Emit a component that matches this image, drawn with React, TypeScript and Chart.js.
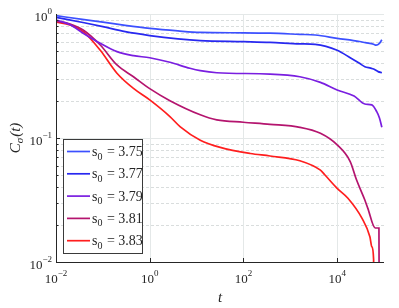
import React, { useEffect, useRef } from 'react';
import { Chart, registerables } from 'chart.js';
Chart.register(...registerables);

const seriesLabels = ['3.75', '3.77', '3.79', '3.81', '3.83'];
const seriesColors = ['#3c50ff', '#2828f0', '#7a1ee0', '#b4146e', '#ff1e1e'];

const tA = [0.01, 0.04, 0.1, 0.3, 1, 4, 12, 100, 370, 1600, 3400, 10000, 30000, 40000, 60000, 68000, 80000, 90000];
const cA = [0.97, 0.9, 0.86, 0.81, 0.765, 0.73, 0.71, 0.705, 0.7, 0.685, 0.677, 0.637, 0.6, 0.587, 0.57, 0.56, 0.58, 0.62];

const tB = [0.01, 0.04, 0.1, 0.3, 1, 4, 12, 100, 370, 1600, 3400, 10000, 19000, 30000, 39000, 52000, 60000, 75000, 90000];
const cB = [0.94, 0.85, 0.79, 0.72, 0.67, 0.63, 0.61, 0.598, 0.59, 0.575, 0.569, 0.51, 0.444, 0.4, 0.376, 0.366, 0.36, 0.343, 0.336];

const tC = [0.01, 0.02, 0.038, 0.088, 0.2, 0.45, 1, 2.7, 7.2, 12, 27, 370, 1600, 4400, 10000, 23000, 39000, 55000, 70000, 80000, 90000];
const cC = [0.895, 0.82, 0.7, 0.58, 0.497, 0.461, 0.444, 0.408, 0.365, 0.349, 0.336, 0.328, 0.312, 0.281, 0.244, 0.218, 0.188, 0.185, 0.163, 0.145, 0.122];

const tD = [0.01, 0.02, 0.038, 0.088, 0.2, 0.45, 1, 2.7, 12, 27, 100, 370, 1600, 4400, 10000, 19000, 26000, 39000, 45000, 65000, 78000, 80000];
const cD = [0.878, 0.83, 0.743, 0.562, 0.388, 0.312, 0.25, 0.2, 0.154, 0.14, 0.134, 0.129, 0.122, 0.109, 0.088, 0.0646, 0.0458, 0.0316, 0.0272, 0.0188, 0.0188, 0.001];

const tE = [0.01, 0.02, 0.038, 0.088, 0.2, 0.45, 1, 2.7, 4.5, 12, 32, 140, 370, 1600, 4400, 5500, 10000, 17000, 34000, 50000, 55000, 60000, 61000];
const cE = [0.86, 0.815, 0.72, 0.51, 0.333, 0.251, 0.203, 0.149, 0.123, 0.096, 0.084, 0.075, 0.0716, 0.0656, 0.055, 0.0503, 0.0393, 0.0327, 0.0225, 0.016, 0.0133, 0.0105, 0.001];

const seriesT = [tA, tB, tC, tD, tE];
const seriesC = [cA, cB, cC, cD, cE];

const xTickExps = [-2, 0, 2, 4];
const yTickExps = [-2, -1, 0];
const xGridExps = [0, 2, 4];
const yMajorGridExps = [-1, 0];
const yMinorDecades = [-2, -1];

const X_MIN = 1e-2;
const X_MAX = 1e5;
const Y_MIN = 1e-2;
const Y_MAX = 1;

const AXIS_COLOR = '#262626';
const SERIF = '"Liberation Serif", "Times New Roman", serif';

function toSup(s: string) {
  return s.replace('-', '\u2212');
}

const decorPlugin = {
  id: 'decor',
  beforeDatasetsDraw(chart: any) {
    const { ctx, chartArea: a, scales } = chart;
    const x = scales.x;
    const y = scales.y;
    ctx.save();
    ctx.lineWidth = 1;
    ctx.strokeStyle = '#d9dddd';
    ctx.setLineDash([3, 2]);
    for (const e of yMinorDecades) {
      for (let m = 2; m <= 9; m++) {
        const py = Math.round(y.getPixelForValue(m * Math.pow(10, e))) + 0.5;
        ctx.beginPath();
        ctx.moveTo(a.left, py);
        ctx.lineTo(a.right, py);
        ctx.stroke();
      }
    }
    ctx.setLineDash([]);
    ctx.strokeStyle = '#e4e8e8';
    for (const e of yMajorGridExps) {
      const py = Math.round(y.getPixelForValue(Math.pow(10, e))) + 0.5;
      ctx.beginPath();
      ctx.moveTo(a.left, py);
      ctx.lineTo(a.right, py);
      ctx.stroke();
    }
    for (const e of xGridExps) {
      const px = Math.round(x.getPixelForValue(Math.pow(10, e))) + 0.5;
      ctx.beginPath();
      ctx.moveTo(px, a.top);
      ctx.lineTo(px, a.bottom);
      ctx.stroke();
    }
    ctx.restore();
  },
  afterDraw(chart: any) {
    const { ctx, chartArea: a, scales } = chart;
    const x = scales.x;
    const y = scales.y;
    ctx.save();
    ctx.strokeStyle = AXIS_COLOR;
    ctx.lineWidth = 1;
    ctx.beginPath();
    ctx.moveTo(a.left + 0.5, a.top);
    ctx.lineTo(a.left + 0.5, a.bottom + 0.5);
    ctx.lineTo(a.right, a.bottom + 0.5);
    ctx.stroke();
    for (const e of xTickExps) {
      const px = Math.round(x.getPixelForValue(Math.pow(10, e))) + 0.5;
      ctx.beginPath();
      ctx.moveTo(px, a.bottom);
      ctx.lineTo(px, a.bottom - 4);
      ctx.stroke();
    }
    for (const e of yMinorDecades) {
      for (let m = 1; m <= 9; m++) {
        const py = Math.round(y.getPixelForValue(m * Math.pow(10, e))) + 0.5;
        ctx.beginPath();
        ctx.moveTo(a.left, py);
        ctx.lineTo(a.left + (m === 1 ? 4 : 2.5), py);
        ctx.stroke();
      }
    }
    ctx.fillStyle = AXIS_COLOR;
    ctx.textBaseline = 'alphabetic';
    const baseFont = '13px ' + SERIF;
    const supFont = '9px ' + SERIF;
    for (const e of xTickExps) {
      const px = x.getPixelForValue(Math.pow(10, e));
      const sup = toSup(String(e));
      ctx.font = baseFont;
      const w1 = ctx.measureText('10').width;
      ctx.font = supFont;
      const w2 = ctx.measureText(sup).width;
      const start = px - (w1 + w2) / 2;
      ctx.font = baseFont;
      ctx.textAlign = 'left';
      ctx.fillText('10', start, a.bottom + 21);
      ctx.font = supFont;
      ctx.fillText(sup, start + w1, a.bottom + 14);
    }
    for (const e of yTickExps) {
      const py = y.getPixelForValue(Math.pow(10, e));
      const sup = toSup(String(e));
      ctx.font = supFont;
      const w2 = ctx.measureText(sup).width;
      ctx.font = baseFont;
      const w1 = ctx.measureText('10').width;
      const right = a.left - 4;
      ctx.textAlign = 'left';
      ctx.fillText('10', right - w2 - w1, py + 7);
      ctx.font = supFont;
      ctx.fillText(sup, right - w2, py);
    }
    ctx.font = 'italic 15px ' + SERIF;
    ctx.textAlign = 'center';
    ctx.fillText('t', (a.left + a.right) / 2, 302);
    ctx.save();
    ctx.translate(20, (a.top + a.bottom) / 2);
    ctx.rotate(-Math.PI / 2);
    const bigI = 'italic 15px ' + SERIF;
    const smallI = 'italic 11px ' + SERIF;
    ctx.font = bigI;
    const wC = ctx.measureText('C').width;
    const wP = ctx.measureText('(t)').width;
    ctx.font = smallI;
    const wS = ctx.measureText('\u03c3').width;
    let cx = -(wC + wS + wP + 1) / 2;
    ctx.textAlign = 'left';
    ctx.font = bigI;
    ctx.fillText('C', cx, 0);
    cx += wC;
    ctx.font = smallI;
    ctx.fillText('\u03c3', cx, 3);
    cx += wS + 1;
    ctx.font = bigI;
    ctx.fillText('(t)', cx, 0);
    ctx.restore();

    const lx = a.left + 7;
    const ly = 139.5;
    const lw = 79;
    const lh = 114;
    ctx.fillStyle = '#ffffff';
    ctx.fillRect(lx, ly, lw, lh);
    ctx.strokeStyle = '#3a3a3a';
    ctx.lineWidth = 1;
    ctx.strokeRect(Math.round(lx) + 0.5, ly, lw, lh);
    const legFont = '14px ' + SERIF;
    const subFont = '10px ' + SERIF;
    chart.data.datasets.forEach((ds: any, i: number) => {
      const rowY = ly + 12 + i * 22.3;
      ctx.strokeStyle = ds.borderColor;
      ctx.lineWidth = 1.7;
      ctx.beginPath();
      ctx.moveTo(lx + 4, rowY);
      ctx.lineTo(lx + 27, rowY);
      ctx.stroke();
      ctx.fillStyle = AXIS_COLOR;
      ctx.textAlign = 'left';
      let tx = lx + 29;
      ctx.font = legFont;
      ctx.fillText('s', tx, rowY + 4.5);
      tx += ctx.measureText('s').width;
      ctx.font = subFont;
      ctx.fillText('0', tx, rowY + 8);
      tx += ctx.measureText('0').width + 1;
      ctx.font = legFont;
      ctx.fillText(' = ' + seriesLabels[i], tx, rowY + 4.5);
    });
    ctx.restore();
  },
};

export default function App() {
  const ref = useRef<HTMLCanvasElement | null>(null);
  useEffect(() => {
    document.body.style.margin = '0';
    const canvas = ref.current;
    if (!canvas) return;
    const chart = new Chart(canvas, {
      type: 'line',
      data: {
        datasets: seriesLabels.map((lab, i) => ({
          label: 's0 = ' + lab,
          data: seriesT[i].map((t, j) => ({ x: t, y: seriesC[i][j] })),
          borderColor: seriesColors[i],
          backgroundColor: seriesColors[i],
          borderWidth: 1.7,
          pointRadius: 0,
          fill: false,
          cubicInterpolationMode: 'monotone' as const,
        })),
      },
      options: {
        responsive: false,
        animation: false,
        layout: { padding: { top: 14, right: 15, left: 0, bottom: 0 } },
        plugins: { legend: { display: false }, tooltip: { enabled: false } },
        scales: {
          x: {
            type: 'logarithmic',
            min: X_MIN,
            max: X_MAX,
            ticks: { display: false },
            grid: { display: false },
            border: { display: false },
            afterFit: (s: any) => {
              s.height = 46;
            },
          },
          y: {
            type: 'logarithmic',
            min: Y_MIN,
            max: Y_MAX,
            ticks: { display: false },
            grid: { display: false },
            border: { display: false },
            afterFit: (s: any) => {
              s.width = 56;
            },
          },
        },
      } as any,
      plugins: [decorPlugin],
    });
    return () => chart.destroy();
  }, []);
  return <canvas ref={ref} width={399} height={308} style={{ display: 'block' }} />;
}
